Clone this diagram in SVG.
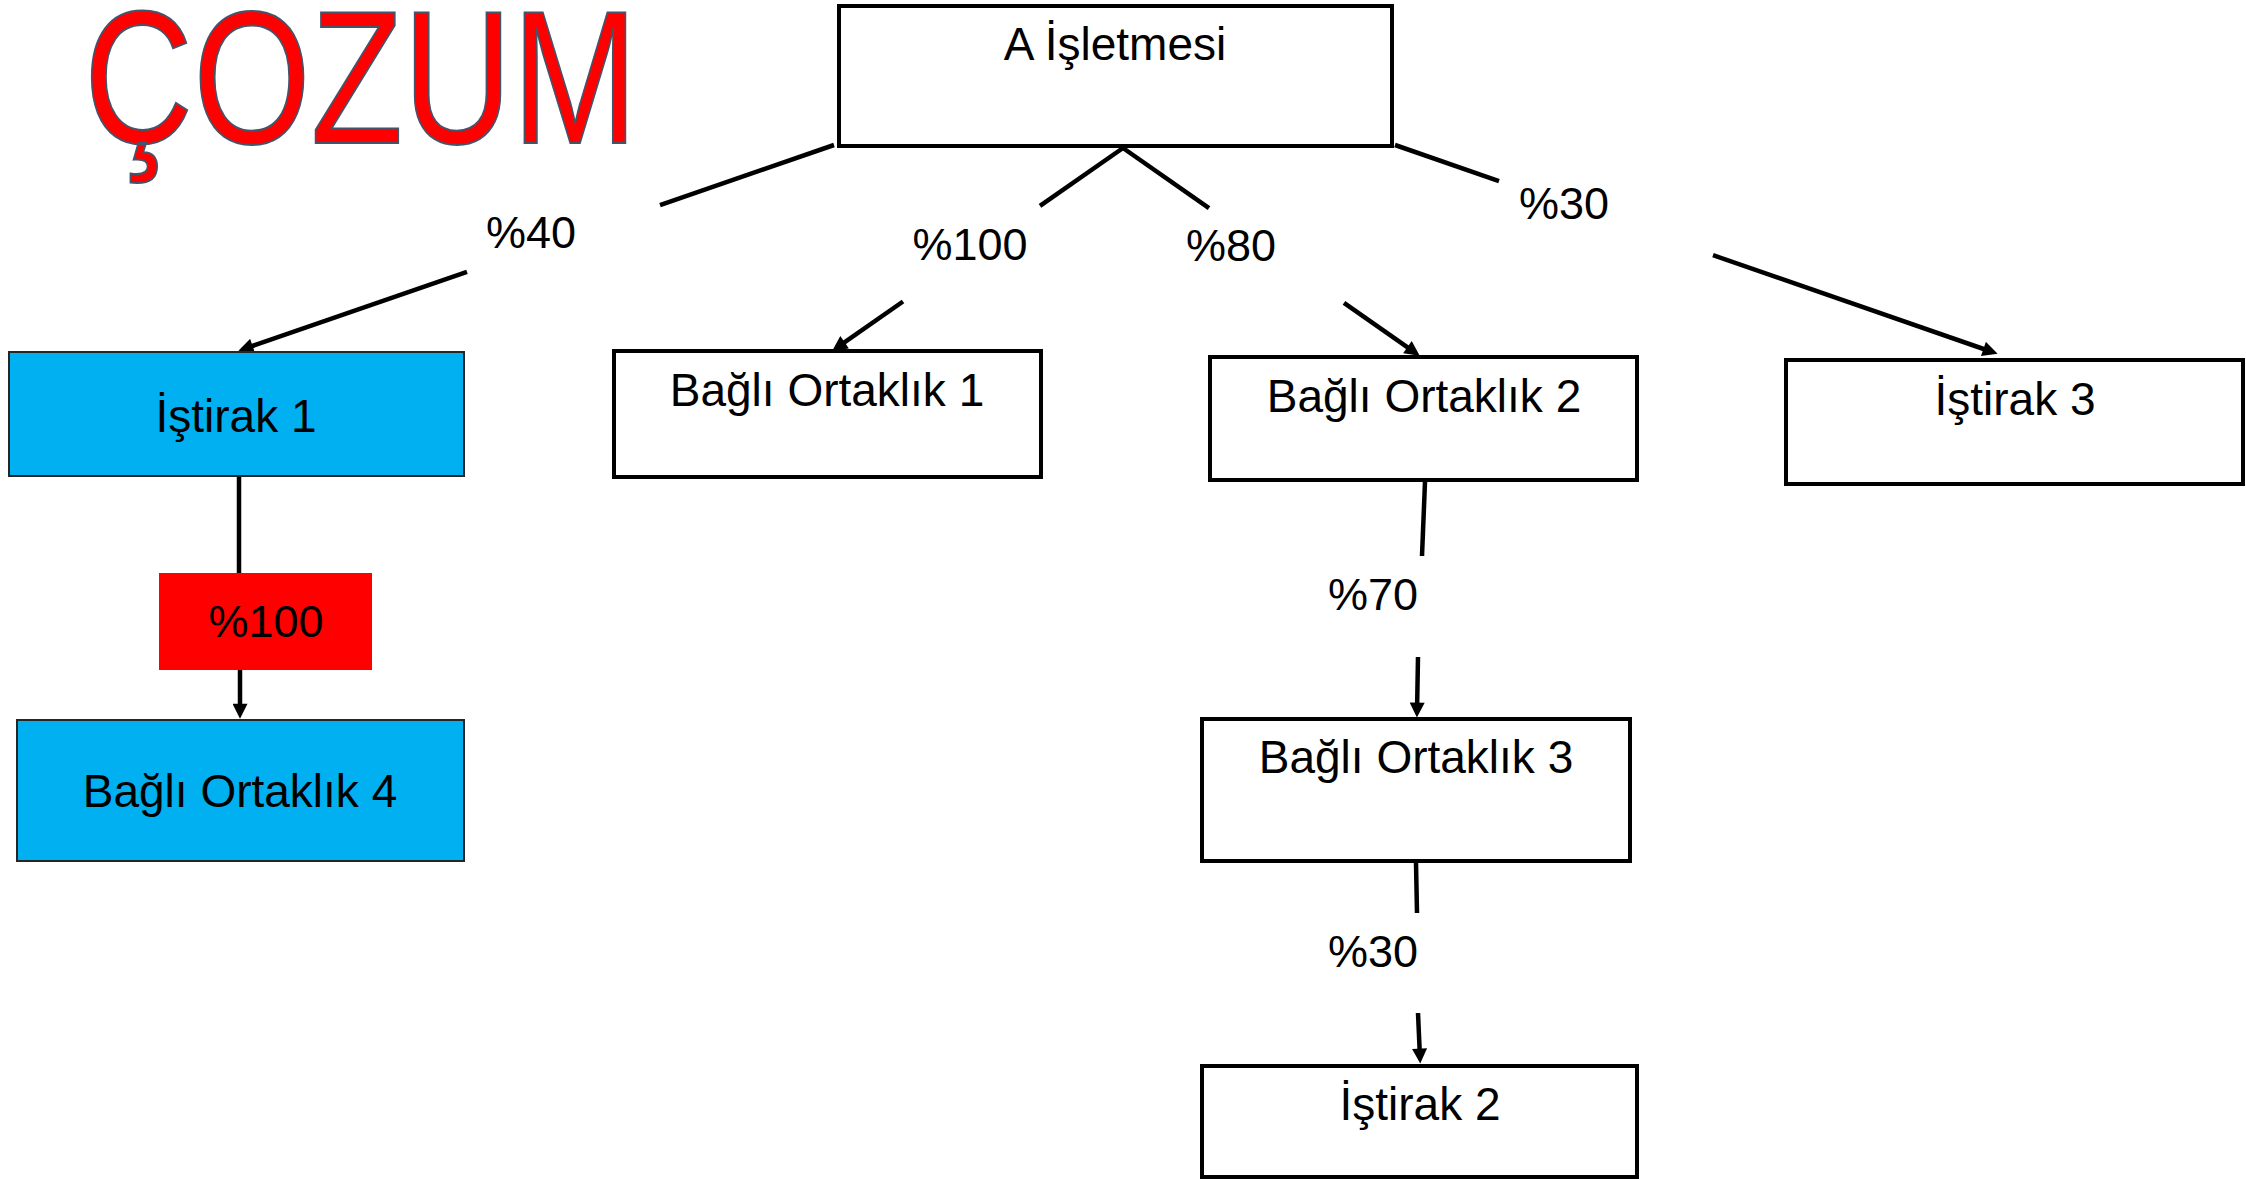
<svg xmlns="http://www.w3.org/2000/svg" width="2246" height="1179" viewBox="0 0 2246 1179">
  <style>
    .box { fill: #FFFFFF; stroke: #000000; stroke-width: 4; }
    .blue { fill: #00B0F0; stroke: #262626; stroke-width: 2; }
    .red { fill: #FF0000; stroke: none; }
    .t { font-family: "Liberation Sans", Arial, sans-serif; font-size: 46px; fill: #000000; text-anchor: middle; }
    .p { font-family: "Liberation Sans", Arial, sans-serif; font-size: 45px; fill: #000000; text-anchor: middle; }
    .ln { stroke: #000000; stroke-width: 4.5; fill: none; stroke-linecap: butt; }
    .title { font-family: "Liberation Sans", Arial, sans-serif; font-size: 190px; fill: #FF0000; stroke: #44546A; stroke-width: 2; }
  </style>
  <defs>
    <marker id="arr" viewBox="0 0 10 10" refX="6.25" refY="5" markerWidth="16" markerHeight="15" markerUnits="userSpaceOnUse" orient="auto">
      <path d="M0,0 L10,5 L0,10 z" fill="#000000"/>
    </marker>
  </defs>
  <rect width="2246" height="1179" fill="#FFFFFF"/>

  <text class="title" x="84" y="143" textLength="554" lengthAdjust="spacingAndGlyphs">ÇOZUM</text>

  <g id="connectors">
    <g id="c-a-istirak1">
      <line class="ln" x1="834" y1="145" x2="660" y2="205.1"/>
      <line class="ln" x1="467" y1="271.9" x2="243.7" y2="349" marker-end="url(#arr)"/>
    </g>
    <g id="c-a-bo1">
      <line class="ln" x1="1123" y1="148" x2="1040" y2="205.9"/>
      <line class="ln" x1="903" y1="301.5" x2="836.9" y2="347.6" marker-end="url(#arr)"/>
    </g>
    <g id="c-a-bo2">
      <line class="ln" x1="1123" y1="148" x2="1209" y2="208.2"/>
      <line class="ln" x1="1344" y1="302.8" x2="1415.1" y2="352.6" marker-end="url(#arr)"/>
    </g>
    <g id="c-a-istirak3">
      <line class="ln" x1="1395" y1="145" x2="1499" y2="181.1"/>
      <line class="ln" x1="1713" y1="255.2" x2="1992.3" y2="352" marker-end="url(#arr)"/>
    </g>
    <g id="c-istirak1-bo4">
      <line class="ln" x1="239" y1="476" x2="239" y2="573"/>
      <line class="ln" x1="240" y1="670" x2="240" y2="713" marker-end="url(#arr)"/>
    </g>
    <g id="c-bo2-bo3">
      <line class="ln" x1="1425" y1="482" x2="1422" y2="556"/>
      <line class="ln" x1="1418" y1="657" x2="1417" y2="712" marker-end="url(#arr)"/>
    </g>
    <g id="c-bo3-istirak2">
      <line class="ln" x1="1416" y1="863" x2="1417" y2="913"/>
      <line class="ln" x1="1418" y1="1013" x2="1420" y2="1058" marker-end="url(#arr)"/>
    </g>
    <text class="p" x="531" y="248">%40</text>
    <text class="p" x="970" y="260">%100</text>
    <text class="p" x="1231" y="261">%80</text>
    <text class="p" x="1564" y="219">%30</text>
    <text class="p" x="1373" y="610">%70</text>
    <text class="p" x="1373" y="967">%30</text>
  </g>

  <g id="node-a">
    <rect class="box" x="839" y="6" width="553" height="140"/>
    <text class="t" x="1115" y="60">A İşletmesi</text>
  </g>
  <g id="node-istirak1">
    <rect class="blue" x="9" y="352" width="455" height="124"/>
    <text class="t" x="236" y="432">İştirak 1</text>
  </g>
  <g id="node-red100">
    <rect class="red" x="159" y="573" width="213" height="97"/>
    <text class="p" x="266" y="637">%100</text>
  </g>
  <g id="node-bo4">
    <rect class="blue" x="17" y="720" width="447" height="141"/>
    <text class="t" x="240" y="807">Bağlı Ortaklık 4</text>
  </g>
  <g id="node-bo1">
    <rect class="box" x="614" y="351" width="427" height="126"/>
    <text class="t" x="827" y="406">Bağlı Ortaklık 1</text>
  </g>
  <g id="node-bo2">
    <rect class="box" x="1210" y="357" width="427" height="123"/>
    <text class="t" x="1424" y="412">Bağlı Ortaklık 2</text>
  </g>
  <g id="node-istirak3">
    <rect class="box" x="1786" y="360" width="457" height="124"/>
    <text class="t" x="2015" y="415">İştirak 3</text>
  </g>
  <g id="node-bo3">
    <rect class="box" x="1202" y="719" width="428" height="142"/>
    <text class="t" x="1416" y="773">Bağlı Ortaklık 3</text>
  </g>
  <g id="node-istirak2">
    <rect class="box" x="1202" y="1066" width="435" height="111"/>
    <text class="t" x="1420" y="1120">İştirak 2</text>
  </g>
</svg>
